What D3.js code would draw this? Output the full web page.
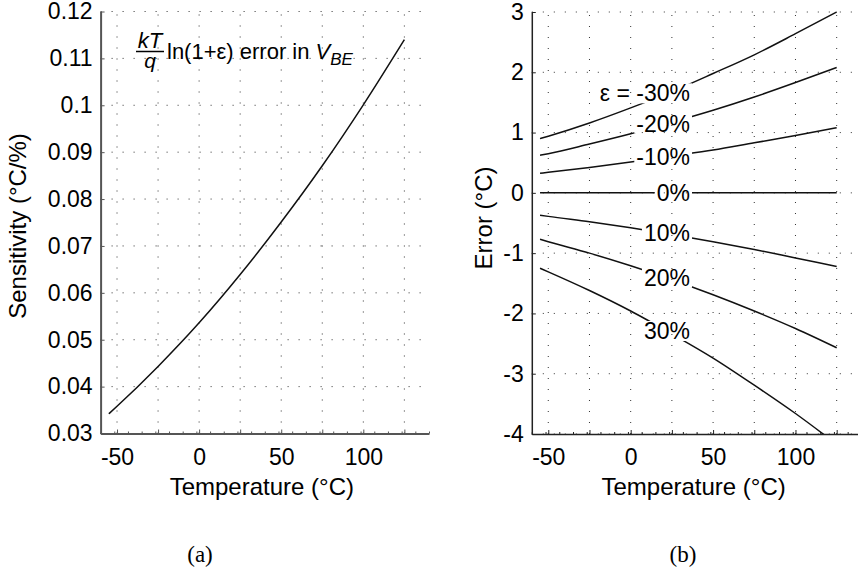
<!DOCTYPE html>
<html>
<head>
<meta charset="utf-8">
<script src="https://d3js.org/d3.v7.min.js"></script>
<style>
  body { margin: 0; background: #fff; }
  svg { display: block; }
  text { font-family: "Liberation Sans", Arial, sans-serif; fill: #000; }
</style>
</head>
<body>
<svg id="chart" width="858" height="574"></svg>
<script>
// values
var tempC = [-55, -50, -25, 0, 25, 50, 75, 100, 125];
var sensitivity = [0.0342, 0.0358, 0.0443, 0.0536, 0.0639, 0.0751, 0.0871, 0.1001, 0.1140];

var epsNames = ["ε = -30%", "-20%", "-10%", "0%", "10%", "20%", "30%"];
var errM30 = [0.90, 0.94, 1.16, 1.41, 1.68, 1.98, 2.29, 2.64, 3.00];
var errM20 = [0.625, 0.65, 0.81, 0.98, 1.17, 1.37, 1.59, 1.83, 2.08];
var errM10 = [0.325, 0.34, 0.42, 0.51, 0.61, 0.71, 0.83, 0.95, 1.08];
var err0 = [0, 0, 0, 0, 0, 0, 0, 0, 0];
var errP10 = [-0.37, -0.39, -0.48, -0.58, -0.69, -0.81, -0.94, -1.08, -1.22];
var errP20 = [-0.77, -0.81, -1.00, -1.21, -1.44, -1.69, -1.96, -2.25, -2.57];
var errP30 = [-1.25, -1.31, -1.62, -1.96, -2.34, -2.74, -3.19, -3.66, -4.17];
var errSeries = [errM30, errM20, errM10, err0, errP10, errP20, errP30];

var tempTickLabels = [-50, 0, 50, 100];
var sensTicks = [0.03, 0.04, 0.05, 0.06, 0.07, 0.08, 0.09, 0.1, 0.11, 0.12];
var errTicks = [-4, -3, -2, -1, 0, 1, 2, 3];

var svg = d3.select("#chart");
var fs = 23;

// every 25 degrees gets a grid line / major tick, minor ticks every 25/3
var majorT = d3.range(-50, 126, 25);
var minorT = d3.range(-60, 140.1, 25 / 3).filter(t => !majorT.some(m => Math.abs(m - t) < 0.1));

// plain hyphen for negatives, like the original figure
var plain = d => String(d);

function drawPanel(opt) {
    var x = d3.scaleLinear().domain([-60, 140]).range(opt.xRange);
    var y = d3.scaleLinear().domain(opt.yDomain).range(opt.yRange);
    var g = svg.append("g");

    // dotted grid
    g.append("g").selectAll("line").data(opt.yTicks).enter().append("line")
        .attr("x1", x(-60)).attr("x2", x(140))
        .attr("y1", d => y(d)).attr("y2", d => y(d))
        .attr("stroke", "#333").attr("stroke-dasharray", "1,10");
    g.append("g").selectAll("line").data(majorT).enter().append("line")
        .attr("x1", d => x(d)).attr("x2", d => x(d))
        .attr("y1", opt.yRange[0]).attr("y2", opt.yRange[1])
        .attr("stroke", "#333").attr("stroke-dasharray", "1,10");

    // bottom axis (ticks point inward)
    var xAxis = d3.axisBottom(x).tickValues(majorT).tickSizeInner(-4).tickSizeOuter(0)
        .tickPadding(15).tickFormat(d => tempTickLabels.includes(d) ? plain(d) : "");
    var gx = g.append("g").attr("transform", "translate(0," + opt.yRange[0] + ")").call(xAxis);
    gx.append("g").call(d3.axisBottom(x).tickValues(minorT).tickSizeInner(-2).tickSizeOuter(0).tickFormat(""))
        .select(".domain").remove();

    var yAxis = d3.axisLeft(y).tickValues(opt.yTicks).tickSizeInner(-4).tickSizeOuter(0)
        .tickPadding(8).tickFormat(plain);
    var gy = g.append("g").attr("transform", "translate(" + opt.xRange[0] + ",0)").call(yAxis);

    [gx, gy].forEach(a => {
        a.selectAll("text").style("font-size", fs + "px").style("font-family", "Liberation Sans, Arial");
        a.selectAll(".domain, line").attr("stroke", opt.axisColor);
        a.select(".domain").attr("stroke-width", opt.axisWidth);
    });

    // axis titles
    g.append("text").attr("x", (opt.xRange[0] + opt.xRange[1]) / 2 - 3).attr("y", 495)
        .attr("text-anchor", "middle").style("font-size", "24px").text("Temperature (°C)");
    g.append("text").attr("transform", "translate(" + opt.yTitle[0] + "," + opt.yTitle[1] + ") rotate(-90)")
        .attr("text-anchor", "middle").style("font-size", "24px").text(opt.yLabel);

    // panel letter
    g.append("text").attr("x", opt.letterX).attr("y", 562).attr("text-anchor", "middle")
        .style("font-family", "Liberation Serif, Times New Roman, serif").style("font-size", "23px")
        .text(opt.letter);

    return { g: g, x: x, y: y };
}

// ---------------- panel (a)
var pa = drawPanel({
    xRange: [100.6, 429], yDomain: [0.03, 0.12], yRange: [433.5, 11.5],
    yTicks: sensTicks, axisColor: "#555", axisWidth: 2,
    yLabel: "Sensitivity (°C/%)", yTitle: [26, 226], letter: "(a)", letterX: 200
});

var line = d3.line().curve(d3.curveMonotoneX);
pa.g.append("path")
    .attr("d", line(tempC.map((t, i) => [pa.x(t), pa.y(sensitivity[i])])))
    .attr("fill", "none").attr("stroke", "#111").attr("stroke-width", 1.5);

// annotation  kT/q ln(1+ε) error in V_BE
var ann = pa.g.append("g").style("font-size", "22px");
ann.append("text").attr("x", 150).attr("y", 48).attr("text-anchor", "middle")
    .style("font-style", "italic").text("kT");
ann.append("line").attr("x1", 136).attr("x2", 164).attr("y1", 51.5).attr("y2", 51.5)
    .attr("stroke", "#000").attr("stroke-width", 1.5);
ann.append("text").attr("x", 150).attr("y", 68).attr("text-anchor", "middle")
    .style("font-style", "italic").style("font-size", "21px").text("q");
var annText = ann.append("text").attr("x", 167).attr("y", 59);
annText.append("tspan").text("ln(1+ε) error in ");
annText.append("tspan").style("font-style", "italic").text("V");
annText.append("tspan").style("font-style", "italic").style("font-size", "17px")
    .attr("dy", 6).text("BE");

// ---------------- panel (b)
var pb = drawPanel({
    xRange: [531.8, 861.4], yDomain: [-4, 3], yRange: [434, 12],
    yTicks: errTicks, axisColor: "#222", axisWidth: 1.5,
    yLabel: "Error (°C)", yTitle: [492, 218], letter: "(b)", letterX: 683
});

var defs = svg.append("defs");
defs.append("clipPath").attr("id", "clipB").append("rect")
    .attr("x", pb.x(-60)).attr("y", pb.y(3) - 2)
    .attr("width", pb.x(140) - pb.x(-60)).attr("height", pb.y(-4) - pb.y(3) + 2);

// inline labels first, so their boxes can cut gaps into the curves
var labelEndT = 36, labelMidT = 22;
var labels = pb.g.append("g").style("font-size", fs + "px");
errSeries.forEach((s, i) => {
    var v = d3.scaleLinear().domain(tempC).range(s)(labelMidT);
    labels.append("text")
        .attr("x", pb.x(labelEndT)).attr("y", pb.y(v) + 0.34 * fs)
        .attr("text-anchor", "end").text(epsNames[i]);
});

var mask = defs.append("mask").attr("id", "gapMask").attr("maskUnits", "userSpaceOnUse")
    .attr("x", 0).attr("y", 0).attr("width", 858).attr("height", 574);
mask.append("rect").attr("width", 858).attr("height", 574).attr("fill", "#fff");
labels.selectAll("text").each(function() {
    var bb = this.getBBox();
    var base = +d3.select(this).attr("y");
    mask.append("rect")
        .attr("x", bb.x - 2).attr("width", bb.width + 4)
        .attr("y", base - 0.74 * fs - 1).attr("height", 0.74 * fs + 3)
        .attr("fill", "#000");
});

var curves = pb.g.append("g").attr("clip-path", "url(#clipB)")
    .append("g").attr("mask", "url(#gapMask)");
errSeries.forEach(s => {
    curves.append("path")
        .attr("d", line(tempC.map((t, i) => [pb.x(t), pb.y(s[i])])))
        .attr("fill", "none").attr("stroke", "#111").attr("stroke-width", 1.5);
});
</script>
</body>
</html>
